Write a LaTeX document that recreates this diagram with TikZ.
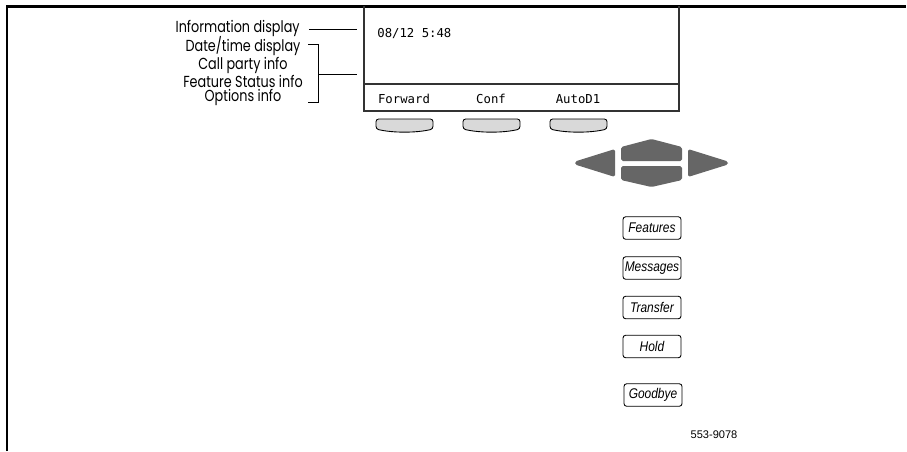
\documentclass[tikz,border=0pt]{standalone}
\usepackage{fontspec}
\setmainfont{Liberation Sans}
\newfontfamily\calloutfont[FakeStretch=0.8]{Poppins}
\newfontfamily\keyfont[FakeStretch=0.85]{Liberation Sans}
\newfontfamily\lcdfont{DejaVu Sans Mono}
\usetikzlibrary{positioning}
\tikzset{
  callout/.style={font=\calloutfont\fontsize{9.1}{8}\selectfont,inner sep=0pt},
  lcd/.style={font=\lcdfont\fontsize{7}{8}\selectfont,inner sep=0pt},
  fixedkey/.style={draw,rounded corners=1.5pt,line width=0.5pt,minimum width=1.16cm,
    minimum height=0.45cm,inner sep=0pt,font=\keyfont\itshape\fontsize{8}{9}\selectfont},
  softkey/.style={draw,fill=gray!30,line width=0.5pt,rounded corners=1.5pt},
  navkey/.style={fill=black!60,rounded corners=1pt},
}
\begin{document}
\begin{tikzpicture}[x=0.02cm,y=-0.02cm]
  \useasboundingbox (0,0) rectangle (907,451);
  % frame
  \draw[line width=1.7pt] (7,451) -- (7,6) -- (906,6);
  % display
  \coordinate (TL) at (364,6);
  \coordinate (TR) at (679,6);
  \coordinate (BL) at (364,111);
  \coordinate (BR) at (679,111);
  \draw[line width=0.6pt,black!80] (TL) -- (BL) -- (BR) -- (TR);
  \draw[line width=0.6pt,black!80] (364,84) -- (679,84);
  \node[lcd,anchor=west] (clock) at (377,33) {08/12 5:48};
  \node[lcd] (fwd) at (404,99) {Forward};
  \node[lcd] (conf) at (491,99) {Conf};
  \node[lcd] (auto) at (578,99) {AutoD1};
  % soft keys
  \foreach \x in {376,463,550}
    \draw[softkey] (\x,119) -- (\x+57,119) -- (\x+57,129)
      .. controls (\x+40,133) and (\x+17,133) .. (\x,129) -- cycle;
  % navigation cluster
  \fill[navkey] (621,161) -- (621,147) -- (651.5,139) -- (682,147) -- (682,161) -- cycle;
  \fill[navkey] (621,166) -- (682,166) -- (682,180) -- (651.5,187) -- (621,180) -- cycle;
  \fill[navkey] (615,149) -- (615,177) -- (575,164.5) -- (575,161.5) -- cycle;
  \fill[navkey] (688,149) -- (688,177) -- (728,164.5) -- (728,161.5) -- cycle;
  % fixed keys
  \node[fixedkey] (features) at (652,228) {Features};
  \node[fixedkey] (messages) at (652,268) {Messages};
  \node[fixedkey] (transfer) at (652,307.5) {Transfer};
  \node[fixedkey] (hold) at (652,346.5) {Hold};
  \node[fixedkey] (goodbye) at (653,395) {Goodbye};
  \node[font=\fontsize{6.3}{7}\selectfont,inner sep=0pt] (fig) at (714,435) {553-9078};
  % callouts
  \node[callout,anchor=east] (info) at (300,28) {Information display};
  \node[callout,align=center] (fields) at (243,71)
    {Date/time display\\Call party info\\Feature Status info\\Options info};
  \coordinate (infoend) at (357,29);
  \coordinate (fieldsend) at (357,74);
  \draw[line width=0.5pt] ([xshift=5]info.east |- infoend) -- (infoend);
  \draw[line width=0.5pt] (308,44) -- (318,44) -- (318,102) -- (308,102);
  \draw[line width=0.5pt] (318,74) -- (fieldsend);
\end{tikzpicture}
\end{document}
